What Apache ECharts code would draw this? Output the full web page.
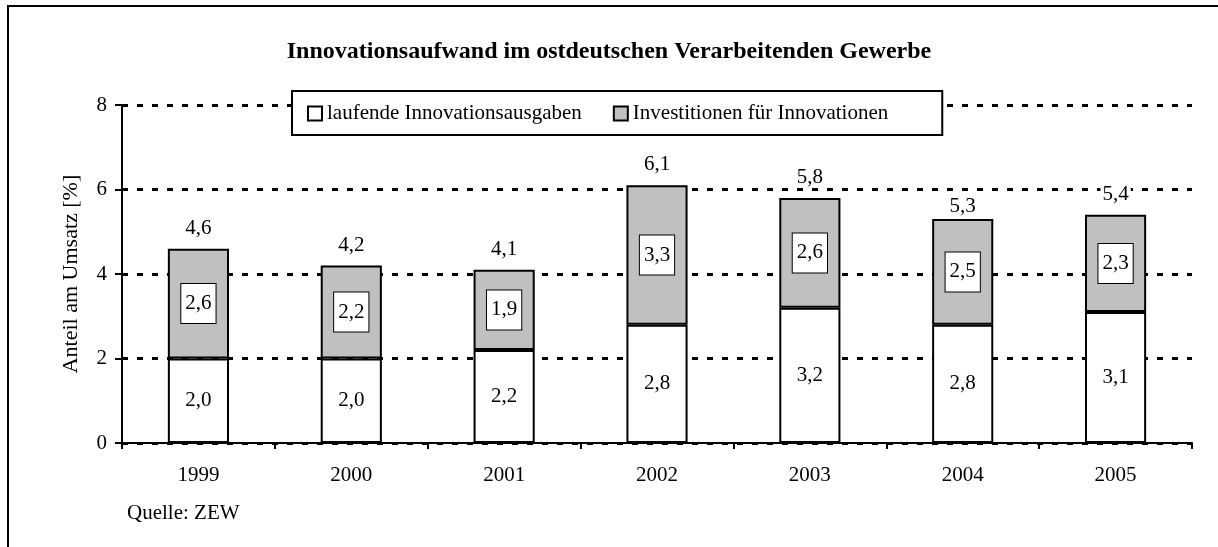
<!DOCTYPE html>
<html>
<head>
<meta charset="utf-8">
<script src="https://cdn.jsdelivr.net/npm/echarts@6/dist/echarts.min.js"></script>
<style>
  html, body { margin: 0; padding: 0; background: #fff; }
  #chart { width: 1218px; height: 547px; }
</style>
</head>
<body>
<div id="chart"></div>
<script>
var years = ['1999', '2000', '2001', '2002', '2003', '2004', '2005'];
var laufend = [2.0, 2.0, 2.2, 2.8, 3.2, 2.8, 3.1];
var investitionen = [2.6, 2.2, 1.9, 3.3, 2.6, 2.5, 2.3];
var gesamt = [4.6, 4.2, 4.1, 6.1, 5.8, 5.3, 5.4];
var yTicks = [0, 2, 4, 6, 8];

var font = 'Liberation Serif';
var comma = function (p) { return p.value.toFixed(1).replace('.', ','); };

// the 2004 total sits closer to its bar in the original
var gesamtData = gesamt.map(function (v, i) {
  return years[i] === '2004' ? { value: v, label: { distance: 2 } } : v;
});

var chart = echarts.init(document.getElementById('chart'));
chart.setOption({
  animation: false,
  textStyle: { fontFamily: font, color: '#000' },
  title: {
    text: 'Innovationsaufwand im ostdeutschen Verarbeitenden Gewerbe',
    left: 'center',
    top: 35,
    textStyle: { fontFamily: font, fontSize: 24, fontWeight: 'bold', color: '#000' }
  },
  legend: {
    data: ['laufende Innovationsausgaben', 'Investitionen für Innovationen'],
    left: 292,
    top: 91,
    padding: [12, 54, 11, 15],
    itemGap: 31,
    itemWidth: 14,
    itemHeight: 14,
    icon: 'rect',
    backgroundColor: '#fff',
    borderColor: '#000',
    borderWidth: 2,
    borderRadius: 0,
    textStyle: { fontFamily: font, fontSize: 21, color: '#000' }
  },
  grid: { left: 122, right: 26, top: 105, bottom: 104 },
  xAxis: {
    type: 'category',
    data: years,
    axisLine: { lineStyle: { color: '#000', width: 2 } },
    axisTick: { show: true, length: 6, lineStyle: { color: '#000', width: 2 } },
    axisLabel: { fontFamily: font, fontSize: 21, color: '#000', margin: 22 }
  },
  yAxis: {
    type: 'value',
    min: yTicks[0],
    max: yTicks[yTicks.length - 1],
    interval: 2,
    name: 'Anteil am Umsatz [%]',
    nameLocation: 'middle',
    nameRotate: 90,
    nameGap: 40,
    nameTextStyle: { fontFamily: font, fontSize: 22, color: '#000' },
    axisLine: { show: true, lineStyle: { color: '#000', width: 2 } },
    axisTick: { show: true, length: 7, lineStyle: { color: '#000', width: 2 } },
    axisLabel: { fontFamily: font, fontSize: 21, color: '#000', margin: 15 },
    splitLine: { lineStyle: { color: '#000', width: 3, type: [6, 9] } }
  },
  series: [
    {
      name: 'laufende Innovationsausgaben',
      type: 'bar',
      stack: 'a',
      barWidth: '40%',
      barGap: '-100%',
      data: laufend,
      itemStyle: { color: '#fff', borderColor: '#000', borderWidth: 2 },
      label: { show: true, position: 'inside', formatter: comma, fontFamily: font, fontSize: 21, color: '#000' }
    },
    {
      name: 'Investitionen für Innovationen',
      type: 'bar',
      stack: 'a',
      barGap: '-100%',
      data: investitionen,
      itemStyle: { color: '#c0c0c0', borderColor: '#000', borderWidth: 2 },
      label: {
        show: true, position: 'inside', formatter: comma, fontFamily: font, fontSize: 21, color: '#000',
        backgroundColor: '#fff', borderColor: '#000', borderWidth: 1, padding: [9, 4, 9, 4]
      }
    },
    {
      name: 'Summe',
      type: 'bar',
      barWidth: '40%',
      barGap: '-100%',
      data: gesamtData,
      z: 1,
      itemStyle: { color: 'transparent', borderWidth: 0 },
      label: {
        show: true, position: 'top', distance: 10, formatter: comma, fontFamily: font, fontSize: 21, color: '#000',
        backgroundColor: '#fff', padding: [0, 2]
      },
      silent: true
    }
  ],
  graphic: [
    { type: 'rect', shape: { x: 8, y: 6, width: 1300, height: 700 }, style: { fill: null, stroke: '#000', lineWidth: 2 }, silent: true },
    { type: 'text', left: 127, top: 503, style: { text: 'Quelle: ZEW', fontFamily: font, fontSize: 21, fill: '#000' } }
  ]
});
</script>
</body>
</html>
